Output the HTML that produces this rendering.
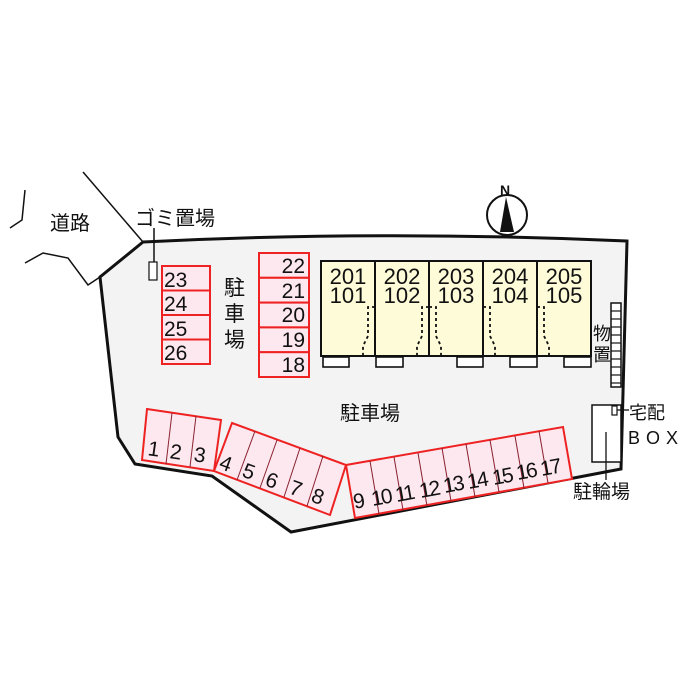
<!DOCTYPE html>
<html><head><meta charset="utf-8"><style>
html,body{margin:0;padding:0;background:#fff;}
svg{display:block;}
text{font-family:"Liberation Sans","Noto Sans CJK JP",sans-serif;fill:#111;}
</style></head><body>
<svg width="700" height="700" viewBox="0 0 700 700" xmlns="http://www.w3.org/2000/svg">
<path d="M143,242 Q380,230 627,241 L621,469 L291,532 L212,476 L135,464 L118,437 L100,277 Z" fill="#f3f3f3" stroke="#111" stroke-width="3"/>
<g fill="none" stroke="#111" stroke-width="1.5">
<path d="M83,172 L143,242"/>
<path d="M25,263 L43,253 L68,258 L88,285 L100,277"/>
<path d="M25,190 L22,220 L10,228"/>
<line x1="154" y1="228" x2="154" y2="262"/>
</g>
<rect x="149" y="262" width="8" height="18" fill="#fff" stroke="#111" stroke-width="1.2"/>
<text x="50" y="230" font-size="20">道路</text>
<text x="135" y="225" font-size="20">ゴミ置場</text>
<circle cx="507" cy="215" r="20" fill="#fff" stroke="#111" stroke-width="2"/>
<path d="M506,197 L500,232 L514,232 Z" fill="#111"/>
<text x="500" y="195" font-size="14" font-weight="bold">N</text>
<g stroke="#e22" stroke-width="2" fill="#fce8ee">
<rect x="162" y="266" width="48" height="24.5"/><rect x="162" y="290.5" width="48" height="24.5"/>
<rect x="162" y="315" width="48" height="24.5"/><rect x="162" y="339.5" width="48" height="24.5"/>
<rect x="259" y="253" width="50" height="24.8"/><rect x="259" y="277.8" width="50" height="24.8"/>
<rect x="259" y="302.6" width="50" height="24.8"/><rect x="259" y="327.4" width="50" height="24.8"/>
<rect x="259" y="352.2" width="50" height="24.8"/>
</g>
<g font-size="21">
<text x="164" y="287">23</text><text x="164" y="311">24</text><text x="164" y="336">25</text><text x="164" y="360">26</text>
<text x="282" y="273" text-anchor="middle" dx="0"></text>
</g>
<g font-size="21" text-anchor="end">
<text x="305" y="273">22</text><text x="305" y="298">21</text><text x="305" y="322">20</text><text x="305" y="347">19</text><text x="305" y="372">18</text>
</g>
<g font-size="21"><text x="224" y="295">駐</text><text x="224" y="321">車</text><text x="224" y="347">場</text></g>
<rect x="321" y="261" width="270" height="95" fill="#fefbd9" stroke="#111" stroke-width="2"/>
<g stroke="#111" stroke-width="2"><line x1="375" y1="261" x2="375" y2="356"/><line x1="429" y1="261" x2="429" y2="356"/><line x1="483" y1="261" x2="483" y2="356"/><line x1="537" y1="261" x2="537" y2="356"/></g>
<g fill="#fff" stroke="#111" stroke-width="1.6">
<rect x="323" y="357" width="26" height="10"/><rect x="376" y="357" width="27" height="10"/><rect x="457" y="357" width="26" height="10"/><rect x="510" y="357" width="27" height="10"/><rect x="564" y="357" width="27" height="10"/>
</g>
<g fill="none" stroke="#111" stroke-width="1.8" stroke-dasharray="3,3">
<path d="M375,307 L368,307 L368,336 L363,346 L363,356"/>
<path d="M429,307 L422,307 L422,336 L417,346 L417,356"/>
<path d="M429,307 L436,307 L436,336 L441,346 L441,356"/>
<path d="M483,307 L490,307 L490,336 L495,346 L495,356"/>
<path d="M537,307 L544,307 L544,336 L549,346 L549,356"/>
</g>
<g font-size="22" text-anchor="middle">
<text x="348" y="284">201</text><text x="348" y="303">101</text>
<text x="402" y="284">202</text><text x="402" y="303">102</text>
<text x="456" y="284">203</text><text x="456" y="303">103</text>
<text x="510" y="284">204</text><text x="510" y="303">104</text>
<text x="564" y="284">205</text><text x="564" y="303">105</text>
</g>
<rect x="611" y="303" width="10" height="84" fill="#fff" stroke="#111" stroke-width="1.5"/>
<g stroke="#111" stroke-width="1.2">
<line x1="611" y1="311" x2="621" y2="311"/><line x1="611" y1="319" x2="621" y2="319"/><line x1="611" y1="327" x2="621" y2="327"/><line x1="611" y1="335" x2="621" y2="335"/><line x1="611" y1="343" x2="621" y2="343"/><line x1="611" y1="351" x2="621" y2="351"/><line x1="611" y1="359" x2="621" y2="359"/><line x1="611" y1="367" x2="621" y2="367"/><line x1="611" y1="375" x2="621" y2="375"/><line x1="611" y1="383" x2="621" y2="383"/>
</g>
<g font-size="18"><text x="593" y="340">物</text><text x="593" y="361">置</text></g>
<text x="370" y="420" font-size="20" text-anchor="middle">駐車場</text>
<rect x="592" y="405" width="29" height="57" fill="#fff" stroke="#111" stroke-width="1.5"/>
<rect x="612" y="406" width="5" height="9" fill="#fff" stroke="#111" stroke-width="1.2"/>
<line x1="617" y1="410" x2="629" y2="410" stroke="#111" stroke-width="1.3"/>
<line x1="606" y1="432" x2="606" y2="480" stroke="#111" stroke-width="1.3"/>
<text x="629" y="419" font-size="18">宅配</text>
<text x="628" y="444" font-size="18" letter-spacing="6">BOX</text>
<text x="573" y="498" font-size="19">駐輪場</text>
<g stroke="#e22" stroke-width="2" fill="#fce8ee">
<path d="M147,409 L221,420 L214,471 L142,460 Z"/>
<path d="M232,423 L346,465 L330,515 L214,471 Z"/>
<path d="M346,465 L563,427 L572,479 L355,518 Z"/>
</g>
<g stroke="#8a2030" stroke-width="1">
<line x1="172" y1="413" x2="166" y2="464"/><line x1="196" y1="416" x2="190" y2="467"/>
<line x1="255" y1="431" x2="237" y2="480"/><line x1="277" y1="440" x2="260" y2="488"/><line x1="300" y1="448" x2="284" y2="497"/><line x1="323" y1="456" x2="307" y2="506"/>
<line x1="370" y1="461" x2="379" y2="514"/><line x1="394" y1="457" x2="403" y2="510"/><line x1="418" y1="453" x2="427" y2="506"/><line x1="442" y1="448" x2="451" y2="501"/><line x1="466" y1="444" x2="475" y2="497"/><line x1="490" y1="440" x2="499" y2="492"/><line x1="515" y1="436" x2="524" y2="488"/><line x1="539" y1="431" x2="548" y2="483"/>
</g>
<g font-size="21">
<text x="148" y="456" transform="rotate(8 154 449)">1</text>
<text x="170" y="459" transform="rotate(8 176 452)">2</text>
<text x="194" y="462" transform="rotate(8 200 455)">3</text>
<text x="220" y="471" transform="rotate(20 227 464)">4</text>
<text x="243" y="479" transform="rotate(20 250 472)">5</text>
<text x="266" y="488" transform="rotate(20 273 481)">6</text>
<text x="290" y="496" transform="rotate(20 297 489)">7</text>
<text x="312" y="504" transform="rotate(20 319 497)">8</text>
<text x="353" y="508" transform="rotate(-10 359 500)">9</text>
<text x="371" y="504" transform="rotate(-10 383 496)" letter-spacing="-2">10</text>
<text x="395" y="500" transform="rotate(-10 407 492)" letter-spacing="-2">11</text>
<text x="419" y="496" transform="rotate(-10 431 488)" letter-spacing="-2">12</text>
<text x="443" y="491" transform="rotate(-10 455 483)" letter-spacing="-2">13</text>
<text x="467" y="487" transform="rotate(-10 479 479)" letter-spacing="-2">14</text>
<text x="492" y="483" transform="rotate(-10 504 475)" letter-spacing="-2">15</text>
<text x="516" y="478" transform="rotate(-10 528 470)" letter-spacing="-2">16</text>
<text x="540" y="474" transform="rotate(-10 552 466)" letter-spacing="-2">17</text>
</g>
</svg>
</body></html>
